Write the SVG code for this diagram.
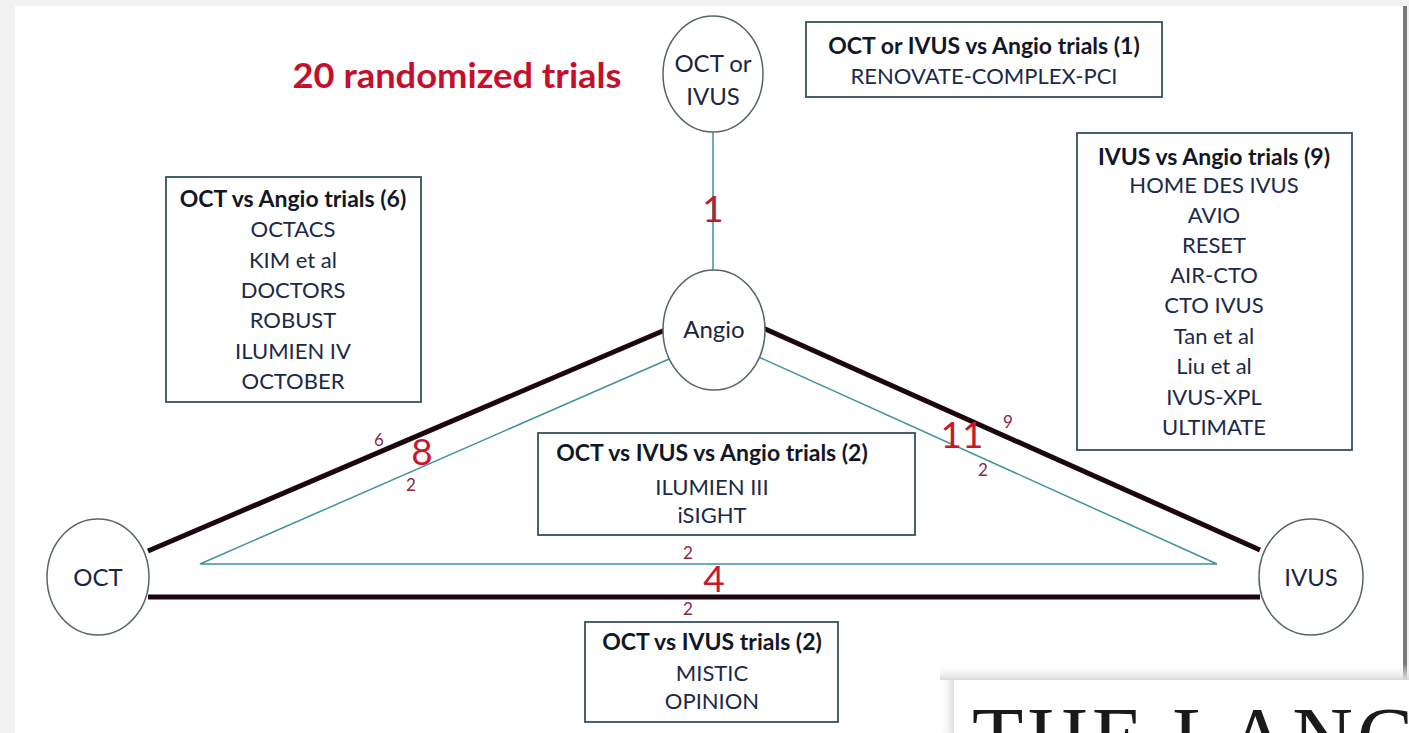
<svg xmlns="http://www.w3.org/2000/svg" width="1409" height="733" viewBox="0 0 1409 733">
<defs>
<linearGradient id="shadowTop" x1="0" y1="0" x2="0" y2="1">
<stop offset="0" stop-color="#ffffff" stop-opacity="0"/>
<stop offset="1" stop-color="#d8d8d8"/>
</linearGradient>
<linearGradient id="shadowLeft" x1="0" y1="0" x2="1" y2="0">
<stop offset="0" stop-color="#ffffff" stop-opacity="0"/>
<stop offset="1" stop-color="#dcdcdc"/>
</linearGradient>
</defs>
<style>
.node ellipse{fill:#ffffff;stroke:#56656b;stroke-width:1.5}
.nlabel{font-family:Lato,"Open Sans",sans-serif;font-size:24px;fill:#1a2742;text-anchor:middle}
.box rect{fill:#ffffff;stroke:#34505e;stroke-width:1.8}
.btitle{font-family:Lato,"Open Sans",sans-serif;font-size:23px;font-weight:bold;fill:#121726;text-anchor:middle}
.bitem{font-family:Lato,"Open Sans",sans-serif;font-size:22px;fill:#1a2a48;text-anchor:middle}
.thick{stroke:#1c070c;stroke-width:5;fill:none}
.thin{stroke:#3f9298;stroke-width:1.5;fill:none}
.big{font-family:Lato,"Open Sans",sans-serif;font-size:37px;fill:#c8182e;text-anchor:middle}
.small{font-family:Lato,"Open Sans",sans-serif;font-size:17px;fill:#8c2448;text-anchor:middle}
</style>
<rect x="0" y="0" width="1409" height="733" fill="#f2f2f2"/>
<rect x="15" y="6" width="1388" height="727" fill="#ffffff"/>
<rect x="1403" y="6" width="4" height="688" fill="#7a7a7a"/>

<text x="457" y="88" font-family="Lato,'Open Sans',sans-serif" font-size="35" font-weight="bold" fill="#c4102c" text-anchor="middle" textLength="329" lengthAdjust="spacingAndGlyphs">20 randomized trials</text>

<g id="connectors">
<line class="thin" x1="713" y1="132" x2="713" y2="270" stroke="#4aa5aa"/>
<line class="thick" x1="148" y1="551" x2="665" y2="330"/>
<line class="thick" x1="763" y1="328" x2="1260" y2="550"/>
<line class="thick" x1="148" y1="597" x2="1260" y2="597"/>
<polyline class="thin" points="676,356 200,564 1217,564 752,354"/>
<text class="big" x="713" y="222" fill="#a8203c">1</text>
<text class="small" x="379" y="446">6</text>
<text class="big" x="422" y="465">8</text>
<text class="small" x="411" y="491">2</text>
<text class="big" x="962" y="448">11</text>
<text class="small" x="1008" y="428">9</text>
<text class="small" x="983" y="476">2</text>
<text class="small" x="688" y="559">2</text>
<text class="big" x="714" y="592">4</text>
<text class="small" x="688" y="615">2</text>
</g>

<g id="node-oct-or-ivus" class="node">
<ellipse cx="713" cy="74" rx="50" ry="58"/>
<text class="nlabel" x="713" y="72">OCT or</text>
<text class="nlabel" x="713" y="105">IVUS</text>
</g>
<g id="node-angio" class="node">
<ellipse cx="714" cy="330" rx="51" ry="60"/>
<text class="nlabel" x="714" y="338">Angio</text>
</g>
<g id="node-oct" class="node">
<ellipse cx="98" cy="577" rx="51" ry="58"/>
<text class="nlabel" x="98" y="586">OCT</text>
</g>
<g id="node-ivus" class="node">
<ellipse cx="1311" cy="577" rx="52" ry="58"/>
<text class="nlabel" x="1311" y="586">IVUS</text>
</g>

<g id="box-oct-ivus-angio-1" class="box">
<rect x="806" y="22" width="356" height="75"/>
<text class="btitle" x="984" y="54">OCT or IVUS vs Angio trials (1)</text>
<text class="bitem" x="984" y="84">RENOVATE-COMPLEX-PCI</text>
</g>

<g id="box-oct-angio" class="box">
<rect x="166" y="177" width="255" height="225"/>
<text class="btitle" x="293" y="207">OCT vs Angio trials (6)</text>
<text class="bitem" x="293" y="237">OCTACS</text>
<text class="bitem" x="293" y="268">KIM et al</text>
<text class="bitem" x="293" y="298">DOCTORS</text>
<text class="bitem" x="293" y="328">ROBUST</text>
<text class="bitem" x="293" y="359">ILUMIEN IV</text>
<text class="bitem" x="293" y="389">OCTOBER</text>
</g>

<g id="box-ivus-angio" class="box">
<rect x="1077" y="133" width="275" height="317"/>
<text class="btitle" x="1214" y="165">IVUS vs Angio trials (9)</text>
<text class="bitem" x="1214" y="193">HOME DES IVUS</text>
<text class="bitem" x="1214" y="223">AVIO</text>
<text class="bitem" x="1214" y="253">RESET</text>
<text class="bitem" x="1214" y="283">AIR-CTO</text>
<text class="bitem" x="1214" y="313">CTO IVUS</text>
<text class="bitem" x="1214" y="344">Tan et al</text>
<text class="bitem" x="1214" y="374">Liu et al</text>
<text class="bitem" x="1214" y="405">IVUS-XPL</text>
<text class="bitem" x="1214" y="435">ULTIMATE</text>
</g>

<g id="box-oct-ivus-angio-3" class="box">
<rect x="538" y="433" width="377" height="102"/>
<text class="btitle" x="712" y="461">OCT vs IVUS vs Angio trials (2)</text>
<text class="bitem" x="712" y="495">ILUMIEN III</text>
<text class="bitem" x="712" y="523">iSIGHT</text>
</g>

<g id="box-oct-ivus" class="box">
<rect x="585" y="622" width="253" height="100"/>
<text class="btitle" x="712" y="650">OCT vs IVUS trials (2)</text>
<text class="bitem" x="712" y="681">MISTIC</text>
<text class="bitem" x="712" y="709">OPINION</text>
</g>

<g id="lancet-panel">
<rect x="940" y="664" width="469" height="16" fill="url(#shadowTop)"/>
<rect x="940" y="680" width="14" height="53" fill="url(#shadowLeft)"/>
<rect x="954" y="680" width="455" height="53" fill="#ffffff"/>
<text x="972" y="766" font-family="'Liberation Serif',serif" font-size="84" fill="#1a1a1a" letter-spacing="4">THE LANCET</text>
</g>
</svg>
